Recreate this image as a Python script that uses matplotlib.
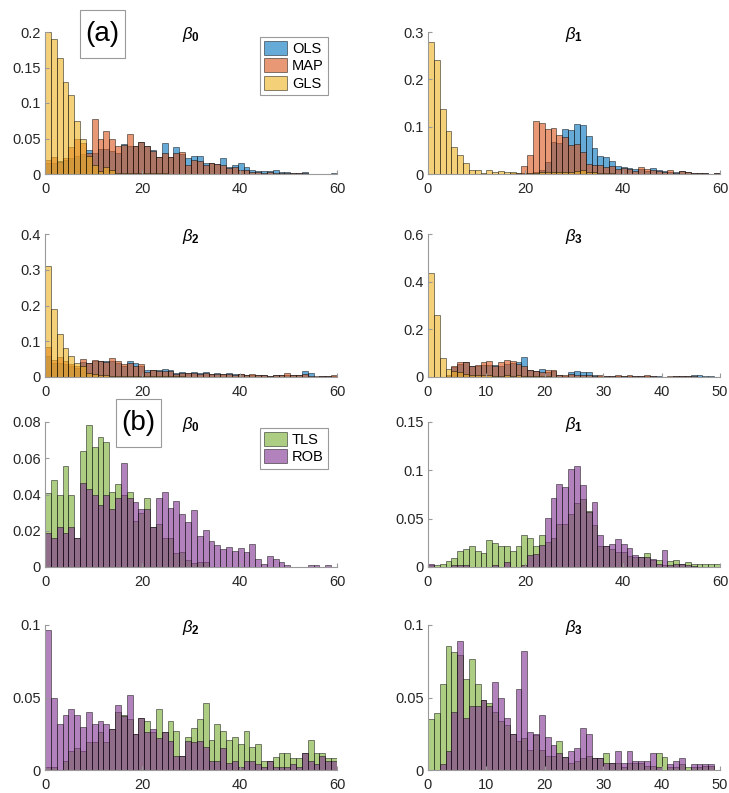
import numpy as np
import matplotlib
matplotlib.use("Agg")
import matplotlib.pyplot as plt
from matplotlib.patches import Rectangle

plt.rcParams['font.family'] = ['Liberation Sans', 'DejaVu Sans']
plt.rcParams['mathtext.fontset'] = 'custom'
plt.rcParams['mathtext.rm'] = 'Liberation Sans'
plt.rcParams['mathtext.it'] = 'Liberation Sans:italic'
plt.rcParams['mathtext.bf'] = 'Liberation Sans:bold'

# ---------------- data (probability per bin) ----------------
# panel (a), beta_0 (bins of width 1.2 from 0)
a_b0_OLS = [0.015, 0.015, 0.018, 0.020, 0.022, 0.025, 0.028, 0.034, 0.030, 0.035,
            0.035, 0.032, 0.030, 0.042, 0.040, 0.040, 0.045, 0.040, 0.034, 0.024,
            0.043, 0.024, 0.038, 0.028, 0.022, 0.025, 0.025, 0.016, 0.016, 0.014,
            0.022, 0.010, 0.012, 0.015, 0.010, 0.006, 0.004, 0.004, 0.004, 0.006,
            0.003, 0.003, 0.001, 0.001, 0.003, 0, 0, 0, 0, 0.002]
a_b0_MAP = [0.020, 0.024, 0.017, 0.022, 0.038, 0.050, 0.043, 0.029, 0.077, 0.050,
            0.060, 0.050, 0.040, 0.041, 0.057, 0.040, 0.045, 0.039, 0.032, 0.024,
            0.029, 0.024, 0.030, 0.031, 0.013, 0.020, 0.018, 0.012, 0.015, 0.014,
            0.012, 0.008, 0.010, 0.005, 0.006, 0.003, 0.003, 0.002, 0.003, 0.002,
            0.001, 0.002, 0.001, 0.001, 0.001]
a_b0_GLS = [0.200, 0.190, 0.164, 0.129, 0.111, 0.074, 0.050, 0.025, 0.012, 0.004,
            0.010, 0.006, 0.002, 0.002, 0.002, 0.002, 0.001, 0.001, 0.002, 0.001, 0.001]

# panel (a), beta_1
a_b1_OLS = [0, 0, 0, 0, 0, 0, 0, 0, 0, 0, 0, 0, 0, 0, 0, 0, 0.001, 0.002,
            0.004, 0.008, 0.026, 0.068, 0.065, 0.096, 0.093, 0.105, 0.103, 0.080,
            0.054, 0.038, 0.035, 0.028, 0.017, 0.015, 0.012, 0.010, 0.010, 0.007,
            0.012, 0.008, 0.007, 0.005, 0.004, 0.006, 0.005, 0.003, 0.003, 0.002,
            0.001, 0.002]
a_b1_MAP = [0, 0, 0, 0, 0, 0, 0, 0, 0, 0, 0, 0, 0, 0, 0.002, 0.003, 0.017, 0.040,
            0.111, 0.107, 0.095, 0.098, 0.082, 0.078, 0.062, 0.063, 0.047, 0.022,
            0.020, 0.020, 0.015, 0.017, 0.010, 0.012, 0.010, 0.007, 0.014, 0.010,
            0.008, 0.006, 0.004, 0.008, 0.003, 0.006, 0.004, 0.002, 0.002, 0.002,
            0.001, 0.002]
a_b1_GLS = [0.278, 0.240, 0.138, 0.090, 0.056, 0.040, 0.023, 0.008, 0.008, 0.003,
            0.008, 0.004, 0.007, 0.005, 0.004, 0.002, 0.002, 0.002, 0.003, 0.004,
            0.004, 0.005, 0.004, 0.004, 0.005, 0.006, 0.009, 0.005, 0.004, 0.003,
            0.002, 0.002, 0.001, 0.001, 0.001, 0.001]

# panel (a), beta_2
a_b2_OLS = [0.060, 0.040, 0.040, 0.035, 0.030, 0.025, 0.042, 0.040, 0.045, 0.046,
            0.046, 0.045, 0.040, 0.030, 0.046, 0.038, 0.030, 0.020, 0.020, 0.020,
            0.023, 0.020, 0.010, 0.015, 0.012, 0.013, 0.010, 0.013, 0.008, 0.010,
            0.008, 0.010, 0.008, 0.008, 0.006, 0.006, 0.006, 0.005, 0.004, 0.005,
            0.005, 0.006, 0.005, 0.006, 0.016, 0.010, 0.001, 0.004, 0.002, 0.004]
a_b2_MAP = [0.085, 0.048, 0.055, 0.045, 0.035, 0.030, 0.050, 0.040, 0.048, 0.046,
            0.042, 0.053, 0.045, 0.035, 0.040, 0.030, 0.035, 0.015, 0.020, 0.018,
            0.016, 0.018, 0.008, 0.010, 0.010, 0.010, 0.008, 0.010, 0.007, 0.008,
            0.008, 0.008, 0.006, 0.008, 0.006, 0.008, 0.005, 0.006, 0.004, 0.005,
            0.006, 0.012, 0.006, 0.005, 0.008, 0.004, 0.002, 0.004, 0.002, 0.005]
a_b2_GLS = [0.310, 0.190, 0.120, 0.080, 0.060, 0.040, 0.030, 0.012, 0.008, 0.006,
            0.005, 0.004, 0.004, 0.004, 0.003, 0.003, 0.003, 0.003, 0.002, 0.002,
            0.002, 0.002, 0.002, 0.002, 0.001]

# panel (a), beta_3 (bins of width 1 from 0)
a_b3_OLS = [0, 0, 0, 0.005, 0.040, 0.055, 0.065, 0.045, 0.048, 0.050,
            0.052, 0.050, 0.045, 0.055, 0.060, 0.065, 0.082, 0.030, 0.025, 0.032,
            0.022, 0.025, 0.010, 0.005, 0.020, 0.025, 0.022, 0.022, 0.008, 0.006,
            0.005, 0.003, 0.005, 0.005, 0.006, 0.005, 0.005, 0.006, 0.006, 0.006,
            0.002, 0.001, 0.003, 0.004, 0.006, 0.010, 0.008, 0.003, 0.003, 0]
a_b3_MAP = [0, 0, 0, 0.010, 0.045, 0.065, 0.063, 0.048, 0.050, 0.065,
            0.068, 0.047, 0.065, 0.073, 0.068, 0.055, 0.045, 0.030, 0.025, 0.020,
            0.028, 0.028, 0.010, 0.008, 0.012, 0.010, 0.008, 0.007, 0.006, 0.007,
            0.004, 0.006, 0.007, 0.006, 0.008, 0.006, 0.005, 0.008, 0.006, 0.002,
            0.001, 0.003, 0.004, 0.004, 0.003, 0.003, 0.002, 0.002, 0, 0]
a_b3_GLS = [0.435, 0.262, 0.078, 0.035, 0.025, 0.020, 0.012, 0.010, 0.008, 0.008,
            0.010, 0.006, 0.006, 0.008, 0.006, 0.008, 0.005, 0.004, 0.004, 0.003,
            0.003, 0.002, 0.002, 0.002, 0.001, 0.001]

# panel (b), beta_0
b_b0_TLS = [0.041, 0.048, 0.040, 0.056, 0.040, 0.016, 0.064, 0.0785, 0.066, 0.072,
            0.069, 0.0415, 0.046, 0.040, 0.0415, 0.0256, 0.030, 0.038, 0.022, 0.024,
            0.016, 0.016, 0.0075, 0.0085, 0.004, 0.002, 0.003, 0.003]
b_b0_ROB = [0.019, 0.016, 0.022, 0.019, 0.022, 0.016, 0.0466, 0.043, 0.040, 0.034,
            0.0396, 0.032, 0.038, 0.0575, 0.038, 0.0356, 0.032, 0.032, 0.022, 0.0378,
            0.0415, 0.0323, 0.0365, 0.029, 0.0247, 0.0316, 0.017, 0.0206, 0.0146, 0.0122,
            0.010, 0.011, 0.0086, 0.0104, 0.0082, 0.0128, 0.0046, 0.0018, 0.006, 0.0046,
            0.0027, 0.001, 0, 0, 0, 0.0013, 0.0013, 0, 0.0013, 0]

# panel (b), beta_1
b_b1_TLS = [0.0017, 0.0017, 0.003, 0.006, 0.009, 0.017, 0.019, 0.0216, 0.0164, 0.0147,
            0.028, 0.0247, 0.022, 0.0216, 0.017, 0.022, 0.0336, 0.030, 0.022, 0.0336,
            0.026, 0.030, 0.045, 0.045, 0.055, 0.066, 0.070, 0.058, 0.0435, 0.022,
            0.022, 0.019, 0.016, 0.016, 0.011, 0.0103, 0.0103, 0.015, 0.0075, 0.0075,
            0.002, 0.006, 0.0075, 0.0035, 0.005, 0.0035, 0.0035, 0.0035, 0.0035, 0.0035]
b_b1_ROB = [0.0035, 0, 0, 0, 0.0017, 0.0017, 0.0017, 0, 0, 0,
            0, 0.0017, 0, 0.005, 0, 0, 0.0017, 0.0127, 0.013, 0.023,
            0.051, 0.071, 0.086, 0.083, 0.101, 0.104, 0.085, 0.057, 0.0675, 0.033,
            0.022, 0.024, 0.029, 0.024, 0.0195, 0.012, 0.0103, 0.0103, 0.008, 0.003,
            0.018, 0.002, 0.0035, 0.003, 0.0017, 0.001, 0, 0, 0, 0]

# panel (b), beta_2
b_b2_TLS = [0.002, 0.002, 0, 0.006, 0.013, 0.015, 0.013, 0.019, 0.019, 0.026,
            0.019, 0.028, 0.040, 0.038, 0.035, 0.025, 0.036, 0.034, 0.026, 0.042,
            0.026, 0.034, 0.027, 0.010, 0.023, 0.029, 0.035, 0.046, 0.021, 0.032,
            0.027, 0.021, 0.023, 0.018, 0.027, 0.016, 0.018, 0.006, 0.006, 0.009,
            0.012, 0.012, 0.008, 0.008, 0.012, 0.021, 0.012, 0.012, 0.008, 0.008]
b_b2_ROB = [0.0966, 0.050, 0.032, 0.038, 0.042, 0.038, 0.030, 0.040, 0.032, 0.034,
            0.032, 0.028, 0.045, 0.037, 0.052, 0.025, 0.036, 0.026, 0.028, 0.022,
            0.026, 0.020, 0.010, 0.010, 0.020, 0.019, 0.020, 0.016, 0.006, 0.006,
            0.015, 0.005, 0.006, 0.002, 0.006, 0.006, 0.004, 0.002, 0.006, 0.002,
            0.002, 0.002, 0.004, 0.002, 0.012, 0.006, 0.004, 0.010, 0.006, 0.006]

# panel (b), beta_3 (bins of width 1 from 0)
b_b3_TLS = [0.035, 0.039, 0.059, 0.0855, 0.0816, 0.079, 0.063, 0.0763, 0.059, 0.048,
            0.046, 0.040, 0.034, 0.031, 0.025, 0.020, 0.022, 0.014, 0.024, 0.014,
            0.010, 0.010, 0.020, 0.009, 0.005, 0.006, 0.008, 0.010, 0.008, 0.008,
            0.012, 0.005, 0.005, 0.002, 0.005, 0.005, 0.005, 0.003, 0.003, 0.012,
            0.009, 0.002, 0.002, 0.004, 0.002, 0.002, 0.002, 0.003, 0.003, 0]
b_b3_ROB = [0, 0, 0.004, 0.013, 0.040, 0.089, 0.036, 0.044, 0.044, 0.048,
            0.044, 0.061, 0.050, 0.036, 0.025, 0.056, 0.082, 0.026, 0.025, 0.038,
            0.023, 0.017, 0.012, 0.009, 0.013, 0.015, 0.029, 0.025, 0.008, 0.008,
            0.005, 0.005, 0.013, 0.005, 0.013, 0.006, 0.006, 0.006, 0.012, 0.002,
            0, 0.004, 0.006, 0.008, 0, 0.004, 0.004, 0.004, 0.004, 0]

titles = [r'$\beta_{\mathbf{0}}$', r'$\beta_{\mathbf{1}}$',
          r'$\beta_{\mathbf{2}}$', r'$\beta_{\mathbf{3}}$']
labels_a = ['OLS', 'MAP', 'GLS']
labels_b = ['TLS', 'ROB']

# ---------------- styling ----------------
C = {'OLS': (0.0, 0.447, 0.741), 'MAP': (0.850, 0.325, 0.098),
     'GLS': (0.929, 0.694, 0.125), 'TLS': (0.466, 0.674, 0.188),
     'ROB': (0.494, 0.184, 0.556)}
AX_COL = '#9a9a9a'
TXT_COL = '#262626'

W, H = 729, 793
fig = plt.figure(figsize=(W / 100, H / 100), dpi=100)

col_x = [45, 428]
col_w = 292
row_y = [(32, 174), (234, 377), (422, 567), (625, 770)]

def make_ax(r, c):
    top, bot = row_y[r]
    return fig.add_axes([col_x[c] / W, 1 - bot / H, col_w / W, (bot - top) / H])

panels = [
    # (row, col, xmax, binw, ymax, yticks, xticks, title, series)
    (0, 0, 60, 1.2, 0.2, [0, 0.05, 0.1, 0.15, 0.2], [0, 20, 40, 60], titles[0],
     [('OLS', a_b0_OLS), ('MAP', a_b0_MAP), ('GLS', a_b0_GLS)]),
    (0, 1, 60, 1.2, 0.3, [0, 0.1, 0.2, 0.3], [0, 20, 40, 60], titles[1],
     [('OLS', a_b1_OLS), ('MAP', a_b1_MAP), ('GLS', a_b1_GLS)]),
    (1, 0, 60, 1.2, 0.4, [0, 0.1, 0.2, 0.3, 0.4], [0, 20, 40, 60], titles[2],
     [('OLS', a_b2_OLS), ('MAP', a_b2_MAP), ('GLS', a_b2_GLS)]),
    (1, 1, 50, 1.0, 0.6, [0, 0.2, 0.4, 0.6], [0, 10, 20, 30, 40, 50], titles[3],
     [('OLS', a_b3_OLS), ('MAP', a_b3_MAP), ('GLS', a_b3_GLS)]),
    (2, 0, 60, 1.2, 0.08, [0, 0.02, 0.04, 0.06, 0.08], [0, 20, 40, 60], titles[0],
     [('TLS', b_b0_TLS), ('ROB', b_b0_ROB)]),
    (2, 1, 60, 1.2, 0.15, [0, 0.05, 0.1, 0.15], [0, 20, 40, 60], titles[1],
     [('TLS', b_b1_TLS), ('ROB', b_b1_ROB)]),
    (3, 0, 60, 1.2, 0.1, [0, 0.05, 0.1], [0, 20, 40, 60], titles[2],
     [('TLS', b_b2_TLS), ('ROB', b_b2_ROB)]),
    (3, 1, 50, 1.0, 0.1, [0, 0.05, 0.1], [0, 10, 20, 30, 40, 50], titles[3],
     [('TLS', b_b3_TLS), ('ROB', b_b3_ROB)]),
]

axes = {}
for (r, c, xmax, bw, ymax, yt, xt, title, series) in panels:
    ax = make_ax(r, c)
    axes[(r, c)] = ax
    for name, vals in series:
        h = np.asarray(vals, dtype=float)
        left = np.arange(len(h)) * bw
        ax.bar(left, h, width=bw, align='edge',
               facecolor=C[name] + (0.6,), edgecolor=(0, 0, 0, 0.55),
               linewidth=0.6, label=name)
    ax.set_xlim(0, xmax)
    ax.set_ylim(0, ymax)
    ax.set_xticks(xt)
    ax.set_yticks(yt)
    ax.yaxis.set_major_formatter(matplotlib.ticker.FormatStrFormatter('%g'))
    for s in ['top', 'right']:
        ax.spines[s].set_visible(False)
    for s in ['left', 'bottom']:
        ax.spines[s].set_color(AX_COL)
        ax.spines[s].set_linewidth(0.8)
    ax.tick_params(axis='both', direction='in', length=3, color=AX_COL,
                   labelsize=10.5, labelcolor=TXT_COL, width=0.8)
    ax.tick_params(axis='y', pad=3)
    ax.tick_params(axis='x', pad=6)
    ax.text(0.5, 0.985, title, transform=ax.transAxes, ha='center', va='center',
            fontsize=12, color='black')

leg_kw = dict(loc='upper right', fontsize=10.5, frameon=True, fancybox=False,
              framealpha=1, edgecolor=AX_COL, handlelength=1.6, handleheight=1.1,
              handletextpad=0.3, borderpad=0.3, labelspacing=0.15, borderaxespad=0)
lg = axes[(0, 0)].legend(bbox_to_anchor=(0.969, 0.965), **leg_kw)
lg.get_frame().set_linewidth(0.8)
lg = axes[(2, 0)].legend(bbox_to_anchor=(0.969, 0.959), **leg_kw)
lg.get_frame().set_linewidth(0.8)

def panel_label(txt, x0, y0, x1, y1):
    fig.add_artist(Rectangle((x0 / W, 1 - y1 / H), (x1 - x0) / W, (y1 - y0) / H,
                             transform=fig.transFigure, facecolor='white',
                             edgecolor=AX_COL, linewidth=0.8))
    fig.text((x0 + x1) / 2 / W, 1 - (y0 + y1) / 2 / H, txt, ha='center', va='center',
             fontsize=20, color='black')

panel_label('(a)', 80, 10, 125, 58)
panel_label('(b)', 116, 399, 161, 447)

fig.savefig('out.png', dpi=100)
